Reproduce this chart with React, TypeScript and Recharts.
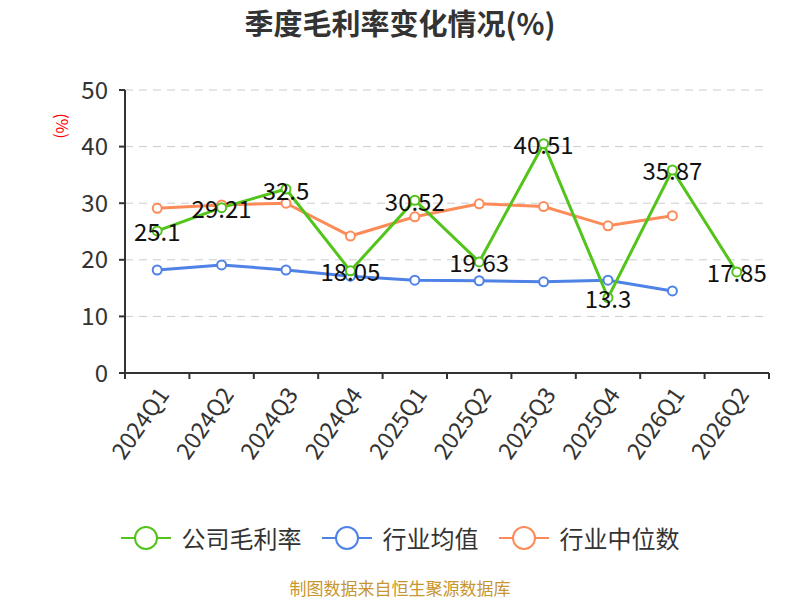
import React from 'react'
import {
  CartesianGrid,
  Line,
  LineChart,
  XAxis,
  YAxis,
} from 'recharts'

const categories = [
  '2024Q1', '2024Q2', '2024Q3', '2024Q4', '2025Q1',
  '2025Q2', '2025Q3', '2025Q4', '2026Q1', '2026Q2',
]
const companyMargin = [25.1, 29.21, 32.5, 18.05, 30.52, 19.63, 40.51, 13.3, 35.87, 17.85]
const industryAvg = [18.2, 19.1, 18.2, 17.1, 16.4, 16.3, 16.1, 16.4, 14.5, null]
const industryMedian = [29.1, 29.7, 30.0, 24.2, 27.6, 29.9, 29.4, 26.0, 27.8, null]
const yTicks = [0, 10, 20, 30, 40, 50]

const GREEN = '#52c41a'
const BLUE = '#4f82e6'
const ORANGE = '#fd8b5a'
const FONT = '"Noto Sans CJK SC", "Noto Sans", sans-serif'

const series = [
  { key: 'company', name: '公司毛利率', color: GREEN },
  { key: 'avg', name: '行业均值', color: BLUE },
  { key: 'median', name: '行业中位数', color: ORANGE },
]

// x is the middle of each category band on a 0..10 number axis
const data = categories.map((name, i) => ({
  x: i + 0.5,
  name,
  company: companyMargin[i],
  avg: industryAvg[i],
  median: industryMedian[i],
}))

// integer ticks are band boundaries (tick marks), halves carry the labels
const xTicks = Array.from({ length: 21 }, (_, i) => i / 2)

const XTick = (props: any) => {
  const { x, y, payload } = props
  const v = payload.value
  if (Number.isInteger(v)) {
    return <line x1={x} y1={y} x2={x} y2={y + 6} stroke="#333" strokeWidth={2} />
  }
  const tx = x + 5
  const ty = y + 16
  return (
    <text
      x={tx}
      y={ty}
      transform={`rotate(-55 ${tx} ${ty})`}
      textAnchor="end"
      dominantBaseline="central"
      fill="#333"
      fontSize={23}
      fontFamily={FONT}
    >
      {categories[Math.floor(v)]}
    </text>
  )
}

const renderLabel = (props: any) => {
  const { x, y, value, index } = props
  return (
    <text
      key={`lbl-${index}`}
      x={x}
      y={y}
      textAnchor="middle"
      dominantBaseline="central"
      fill="#111"
      fontSize={24}
      fontFamily={FONT}
    >
      {value}
    </text>
  )
}

const LegendRow = () => (
  <div
    style={{
      position: 'absolute', top: 523, left: 0, width: 800, height: 30,
      display: 'flex', justifyContent: 'center', alignItems: 'center', fontFamily: FONT,
    }}
  >
    {series.map((s) => (
      <div key={s.key} style={{ display: 'flex', alignItems: 'center', margin: '0 10px' }}>
        <svg width={50} height={28}>
          <line x1={0} y1={14} x2={50} y2={14} stroke={s.color} strokeWidth={2} />
          <circle cx={25} cy={14} r={11} fill="#fff" stroke={s.color} strokeWidth={2} />
        </svg>
        <span style={{ fontSize: 24, lineHeight: '30px', color: '#333', marginLeft: 11 }}>{s.name}</span>
      </div>
    ))}
  </div>
)

export default function App() {
  return (
    <div style={{ position: 'absolute', left: 0, top: 0, width: 800, height: 600, background: '#fff', overflow: 'hidden' }}>
      <div
        style={{
          position: 'absolute', top: 2, width: 800, textAlign: 'center', lineHeight: '40px',
          fontSize: 29, fontWeight: 'bold', color: '#333', fontFamily: FONT,
        }}
      >
        季度毛利率变化情况(%)
      </div>
      <div
        style={{
          position: 'absolute', left: 63, top: 126, transform: 'translate(-50%, -50%) rotate(90deg)',
          fontSize: 16, lineHeight: '20px', color: 'red', fontFamily: FONT, whiteSpace: 'nowrap',
        }}
      >
        (%)
      </div>
      <LineChart
        width={800}
        height={600}
        data={data}
        margin={{ top: 90, right: 31, bottom: 127, left: 65 }}
      >
        <CartesianGrid vertical={false} stroke="#ccc" strokeDasharray="8 6" />
        <XAxis
          dataKey="x"
          type="number"
          domain={[0, 10]}
          ticks={xTicks}
          interval={0}
          height={100}
          tickLine={false}
          tickSize={0}
          tickMargin={0}
          axisLine={{ stroke: '#333', strokeWidth: 2 }}
          tick={<XTick />}
        />
        <YAxis
          domain={[0, 50]}
          ticks={yTicks}
          width={60}
          interval={0}
          axisLine={{ stroke: '#333', strokeWidth: 2 }}
          tickLine={{ stroke: '#333', strokeWidth: 2 }}
          tickSize={6}
          tickMargin={11}
          tick={{ fill: '#333', fontSize: 24, fontFamily: FONT }}
        />
        <Line
          dataKey="avg"
          name="行业均值"
          stroke={BLUE}
          strokeWidth={3}
          dot={{ r: 4.5, fill: '#fff', stroke: BLUE, strokeWidth: 2 }}
          isAnimationActive={false}
        />
        <Line
          dataKey="median"
          name="行业中位数"
          stroke={ORANGE}
          strokeWidth={3}
          dot={{ r: 4.5, fill: '#fff', stroke: ORANGE, strokeWidth: 2 }}
          isAnimationActive={false}
        />
        <Line
          dataKey="company"
          name="公司毛利率"
          stroke={GREEN}
          strokeWidth={3}
          dot={{ r: 4.5, fill: '#fff', stroke: GREEN, strokeWidth: 2 }}
          label={renderLabel}
          isAnimationActive={false}
        />
      </LineChart>
      <LegendRow />
      <div
        style={{
          position: 'absolute', top: 578, width: 800, textAlign: 'center', lineHeight: '20px',
          fontSize: 17, color: '#c8962e', fontFamily: FONT,
        }}
      >
        制图数据来自恒生聚源数据库
      </div>
    </div>
  )
}
